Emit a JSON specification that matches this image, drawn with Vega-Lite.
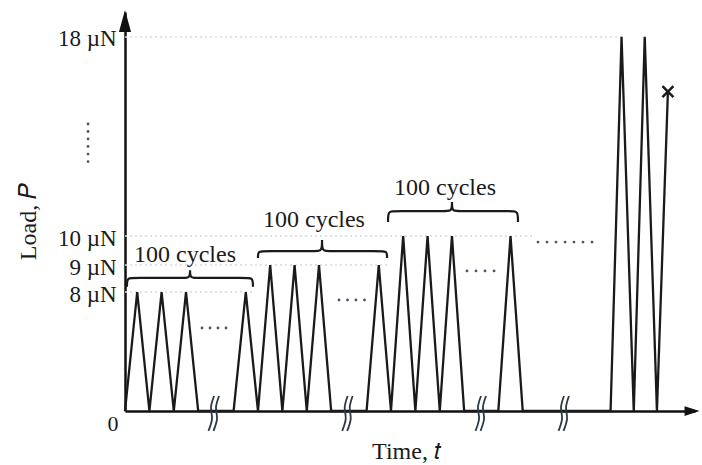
{
  "$schema": "https://vega.github.io/schema/vega-lite/v6.json",
  "width": 570,
  "height": 399,
  "autosize": {"type": "none"},
  "padding": {"left": 125, "top": 12, "right": 7, "bottom": 54},
  "background": "white",
  "config": {
    "view": {"stroke": null},
    "font": "Liberation Serif",
    "axis": {"grid": false, "labelFont": "Liberation Serif", "titleFont": "Liberation Serif", "labelColor": "#1a1a1a", "titleColor": "#1a1a1a"}
  },
  "datasets": {
    "wave": [
      {"i": 0, "t": 0, "load": 0}, {"i": 1, "t": 1.0, "load": 8}, {"i": 2, "t": 2.0, "load": 0}, {"i": 3, "t": 3.0, "load": 8},
      {"i": 4, "t": 4.0, "load": 0}, {"i": 5, "t": 5.0, "load": 8}, {"i": 6, "t": 6.0, "load": 0}, {"i": 7, "t": 8.9, "load": 0},
      {"i": 8, "t": 9.9, "load": 8}, {"i": 9, "t": 10.9, "load": 0}, {"i": 10, "t": 11.9, "load": 9}, {"i": 11, "t": 12.9, "load": 0},
      {"i": 12, "t": 13.9, "load": 9}, {"i": 13, "t": 14.9, "load": 0}, {"i": 14, "t": 15.9, "load": 9}, {"i": 15, "t": 16.9, "load": 0},
      {"i": 16, "t": 19.8, "load": 0}, {"i": 17, "t": 20.8, "load": 9}, {"i": 18, "t": 21.8, "load": 0}, {"i": 19, "t": 22.8, "load": 10},
      {"i": 20, "t": 23.8, "load": 0}, {"i": 21, "t": 24.8, "load": 10}, {"i": 22, "t": 25.8, "load": 0}, {"i": 23, "t": 26.8, "load": 10},
      {"i": 24, "t": 27.8, "load": 0}, {"i": 25, "t": 30.6, "load": 0}, {"i": 26, "t": 31.6, "load": 10}, {"i": 27, "t": 32.6, "load": 0},
      {"i": 28, "t": 39.8, "load": 0}, {"i": 29, "t": 40.7, "load": 18}, {"i": 30, "t": 41.7, "load": 0}, {"i": 31, "t": 42.6, "load": 18},
      {"i": 32, "t": 43.6, "load": 0}, {"i": 33, "t": 44.5, "load": 15.8}
    ],
    "guides": [
      {"t": 0, "t2": 10.5, "load": 8},
      {"t": 0, "t2": 21.5, "load": 9},
      {"t": 0, "t2": 33.4, "load": 10},
      {"t": 0, "t2": 40.7, "load": 18}
    ],
    "braces": [
      {"id": 1, "i": 0, "t": 0.16, "load": 8.19}, {"id": 1, "i": 1, "t": 0.16, "load": 8.52}, {"id": 1, "i": 2, "t": 0.66, "load": 8.52},
      {"id": 1, "i": 3, "t": 4.83, "load": 8.52}, {"id": 1, "i": 4, "t": 5.33, "load": 8.52}, {"id": 1, "i": 5, "t": 5.33, "load": 8.81},
      {"id": 1, "i": 6, "t": 5.33, "load": 8.81}, {"id": 1, "i": 7, "t": 5.33, "load": 8.81}, {"id": 1, "i": 8, "t": 5.33, "load": 8.52},
      {"id": 1, "i": 9, "t": 5.83, "load": 8.52}, {"id": 1, "i": 10, "t": 9.99, "load": 8.52}, {"id": 1, "i": 11, "t": 10.49, "load": 8.52},
      {"id": 1, "i": 12, "t": 10.49, "load": 8.19},
      {"id": 2, "i": 0, "t": 10.9, "load": 9.24}, {"id": 2, "i": 1, "t": 10.9, "load": 9.48}, {"id": 2, "i": 2, "t": 11.4, "load": 9.48},
      {"id": 2, "i": 3, "t": 15.65, "load": 9.48}, {"id": 2, "i": 4, "t": 16.15, "load": 9.48}, {"id": 2, "i": 5, "t": 16.15, "load": 9.86},
      {"id": 2, "i": 6, "t": 16.15, "load": 9.86}, {"id": 2, "i": 7, "t": 16.15, "load": 9.86}, {"id": 2, "i": 8, "t": 16.15, "load": 9.48},
      {"id": 2, "i": 9, "t": 16.65, "load": 9.48}, {"id": 2, "i": 10, "t": 20.98, "load": 9.48}, {"id": 2, "i": 11, "t": 21.48, "load": 9.48},
      {"id": 2, "i": 12, "t": 21.48, "load": 9.24},
      {"id": 3, "i": 0, "t": 21.56, "load": 10.56}, {"id": 3, "i": 1, "t": 21.56, "load": 11.0}, {"id": 3, "i": 2, "t": 22.06, "load": 11.0},
      {"id": 3, "i": 3, "t": 26.3, "load": 11.0}, {"id": 3, "i": 4, "t": 26.8, "load": 11.0}, {"id": 3, "i": 5, "t": 26.8, "load": 11.37},
      {"id": 3, "i": 6, "t": 26.8, "load": 11.37}, {"id": 3, "i": 7, "t": 26.8, "load": 11.37}, {"id": 3, "i": 8, "t": 26.8, "load": 11.0},
      {"id": 3, "i": 9, "t": 27.3, "load": 11.0}, {"id": 3, "i": 10, "t": 31.71, "load": 11.0}, {"id": 3, "i": 11, "t": 32.21, "load": 11.0},
      {"id": 3, "i": 12, "t": 32.21, "load": 10.56}
    ],
    "breaks": [
      {"id": "1a", "i": 0, "t": 7.3, "load": 1.01}, {"id": "1a", "i": 1, "t": 7.05, "load": 0.27}, {"id": "1a", "i": 2, "t": 7.13, "load": -0.54}, {"id": "1a", "i": 3, "t": 6.84, "load": -1.34},
      {"id": "1b", "i": 0, "t": 7.71, "load": 1.01}, {"id": "1b", "i": 1, "t": 7.46, "load": 0.27}, {"id": "1b", "i": 2, "t": 7.54, "load": -0.54}, {"id": "1b", "i": 3, "t": 7.25, "load": -1.34},
      {"id": "2a", "i": 0, "t": 18.25, "load": 1.01}, {"id": "2a", "i": 1, "t": 18.01, "load": 0.27}, {"id": "2a", "i": 2, "t": 18.09, "load": -0.54}, {"id": "2a", "i": 3, "t": 17.8, "load": -1.34},
      {"id": "2b", "i": 0, "t": 18.66, "load": 1.01}, {"id": "2b", "i": 1, "t": 18.42, "load": 0.27}, {"id": "2b", "i": 2, "t": 18.5, "load": -0.54}, {"id": "2b", "i": 3, "t": 18.21, "load": -1.34},
      {"id": "3a", "i": 0, "t": 29.18, "load": 1.01}, {"id": "3a", "i": 1, "t": 28.93, "load": 0.27}, {"id": "3a", "i": 2, "t": 29.02, "load": -0.54}, {"id": "3a", "i": 3, "t": 28.73, "load": -1.34},
      {"id": "3b", "i": 0, "t": 29.59, "load": 1.01}, {"id": "3b", "i": 1, "t": 29.34, "load": 0.27}, {"id": "3b", "i": 2, "t": 29.43, "load": -0.54}, {"id": "3b", "i": 3, "t": 29.14, "load": -1.34},
      {"id": "4a", "i": 0, "t": 35.98, "load": 1.01}, {"id": "4a", "i": 1, "t": 35.74, "load": 0.27}, {"id": "4a", "i": 2, "t": 35.82, "load": -0.54}, {"id": "4a", "i": 3, "t": 35.53, "load": -1.34},
      {"id": "4b", "i": 0, "t": 36.39, "load": 1.01}, {"id": "4b", "i": 1, "t": 36.15, "load": 0.27}, {"id": "4b", "i": 2, "t": 36.23, "load": -0.54}, {"id": "4b", "i": 3, "t": 35.94, "load": -1.34}
    ],
    "dots": [
      {"t": 6.31, "load": 5.58}, {"t": 6.97, "load": 5.58}, {"t": 7.62, "load": 5.58}, {"t": 8.28, "load": 5.58},
      {"t": 17.54, "load": 7.46}, {"t": 18.24, "load": 7.46}, {"t": 18.93, "load": 7.46}, {"t": 19.63, "load": 7.46},
      {"t": 28.03, "load": 8.78}, {"t": 28.77, "load": 8.78}, {"t": 29.51, "load": 8.78}, {"t": 30.25, "load": 8.78},
      {"t": 33.85, "load": 9.79}, {"t": 34.59, "load": 9.79}, {"t": 35.33, "load": 9.79}, {"t": 36.07, "load": 9.79},
      {"t": 36.8, "load": 9.79}, {"t": 37.54, "load": 9.79}, {"t": 38.28, "load": 9.79},
      {"t": -3.03, "load": 14.5}, {"t": -3.03, "load": 14.2}, {"t": -3.03, "load": 13.9}, {"t": -3.03, "load": 13.6},
      {"t": -3.03, "load": 13.29}, {"t": -3.03, "load": 12.99}
    ],
    "labels": [
      {"t": 4.92, "load": 9.34, "label": "100 cycles"},
      {"t": 15.49, "load": 10.64, "label": "100 cycles"},
      {"t": 26.23, "load": 11.93, "label": "100 cycles"}
    ]
  },
  "encoding": {
    "x": {
      "field": "t", "type": "quantitative",
      "scale": {"type": "linear", "domain": [0, 46.72], "nice": false, "zero": false},
      "axis": {
        "values": [0], "ticks": false, "tickSize": 0, "labelAlign": "right", "labelBaseline": "top", "labelOffset": -7, "labelPadding": 2,
        "labelFontSize": 22, "domainColor": "#111111", "domainWidth": 2.5,
        "title": "Time, 𝑡", "titleFontSize": 24, "titleFontWeight": "normal", "titleX": 281, "titleY": 40, "titleAlign": "center", "titleBaseline": "middle"
      }
    },
    "y": {
      "field": "load", "type": "quantitative",
      "scale": {"type": "linear", "domain": [0, 8, 9, 10, 19], "range": [399, 280, 253, 224, 0], "nice": false, "zero": false},
      "axis": {
        "values": [8, 9, 10, 18], "labelExpr": "datum.value + ' µN'", "ticks": false, "tickSize": 0, "labelPadding": 9, "labelOffset": 2,
        "labelFontSize": 23, "domainColor": "#111111", "domainWidth": 2.5,
        "title": "Load, 𝑃", "titleFontSize": 24, "titleFontWeight": "normal", "titleAngle": -90, "titleX": -97, "titleY": 209, "titleAlign": "center", "titleBaseline": "middle"
      }
    }
  },
  "layer": [
    {
      "data": {"name": "guides"},
      "mark": {"type": "rule", "color": "#d3dae2", "strokeDash": [2, 3], "strokeWidth": 1.5},
      "encoding": {"x2": {"field": "t2"}}
    },
    {
      "data": {"name": "wave"},
      "mark": {"type": "line", "color": "#1a1a1a", "strokeWidth": 2.3},
      "encoding": {"order": {"field": "i", "type": "quantitative"}}
    },
    {
      "data": {"name": "braces"},
      "mark": {"type": "line", "interpolate": "basis", "color": "#1a1a1a", "strokeWidth": 2.2},
      "encoding": {"detail": {"field": "id", "type": "nominal"}, "order": {"field": "i", "type": "quantitative"}}
    },
    {
      "data": {"name": "breaks"},
      "mark": {"type": "line", "interpolate": "cardinal", "color": "#2c3844", "strokeWidth": 1.8},
      "encoding": {"detail": {"field": "id", "type": "nominal"}, "order": {"field": "i", "type": "quantitative"}}
    },
    {
      "data": {"name": "dots"},
      "mark": {"type": "point", "filled": true, "size": 8, "color": "#4a5866", "opacity": 1}
    },
    {
      "data": {"name": "labels"},
      "mark": {"type": "text", "font": "Liberation Serif", "fontSize": 24, "color": "#1a1a1a", "align": "center", "baseline": "middle"},
      "encoding": {"text": {"field": "label"}}
    },
    {
      "data": {"values": [{"t": 0, "load": 18.64}]},
      "mark": {"type": "point", "shape": "M0,-1L0.55,1L-0.55,1Z", "size": 484, "filled": true, "color": "#111111", "opacity": 1}
    },
    {
      "data": {"values": [{"t": 46.48, "load": 0}]},
      "mark": {"type": "point", "shape": "M1,0L-1,0.65L-1,-0.65Z", "size": 225, "filled": true, "color": "#111111", "opacity": 1}
    },
    {
      "data": {"values": [{"t": 44.5, "load": 15.8}]},
      "mark": {"type": "point", "shape": "M-1,-1L1,1M-1,1L1,-1", "size": 120, "filled": false, "color": "#1a1a1a", "strokeWidth": 2.5, "opacity": 1}
    }
  ]
}
